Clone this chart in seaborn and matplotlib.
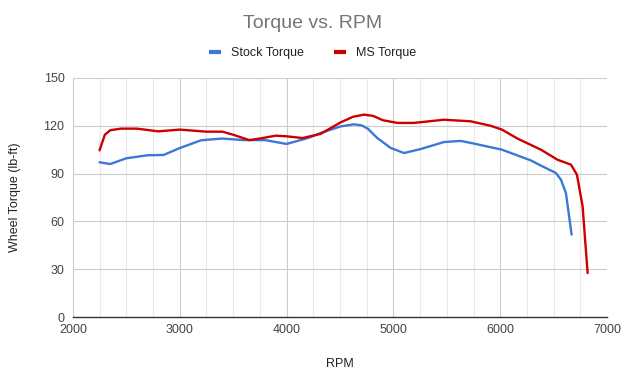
import pandas as pd
import matplotlib
matplotlib.use('Agg')
import matplotlib.pyplot as plt
from matplotlib.ticker import MultipleLocator
from matplotlib.lines import Line2D
import seaborn as sns

# values
stock_rpm = [2250, 2350, 2500, 2700, 2850, 3000, 3200, 3400, 3600, 3800, 4000,
             4200, 4320, 4505, 4630, 4700, 4760, 4849, 4974, 5099, 5255, 5473, 5630,
             5755, 6015, 6285, 6380, 6520, 6567, 6614, 6667]
stock_torque = [97.1, 96, 99.6, 101.5, 101.7, 106, 110.9, 112, 111, 111, 108.6,
                112.3, 115.5, 119.6, 120.9, 120.3, 118.2, 112.3, 106.1, 102.9, 105.4, 109.8, 110.5,
                108.8, 105, 98.3, 95, 90.4, 86.2, 77.8, 51.7]

ms_rpm = [2250, 2300, 2350, 2450, 2600, 2800, 3000, 3250, 3400, 3500, 3650,
          3750, 3900, 4000, 4150, 4318, 4505, 4620, 4724, 4810, 4900, 5037, 5192, 5473,
          5723, 5910, 6015, 6160, 6380, 6535, 6661, 6717, 6770, 6817]
ms_torque = [104.6, 114.4, 117.2, 118.2, 118.2, 116.5, 117.6, 116.3, 116.3, 114.4, 111,
             112, 113.8, 113.4, 112.3, 114.9, 122.1, 125.6, 127.0, 126.2, 123.5, 121.8, 121.8, 123.8,
             122.8, 120, 117.6, 112, 105.0, 98.7, 95.6, 89.3, 69.4, 27.6]

series_names = ['Stock Torque', 'MS Torque']
colors = ['#3c78d8', '#cc0000']

df = pd.concat([
    pd.DataFrame({'rpm': stock_rpm, 'torque': stock_torque, 'series': series_names[0]}),
    pd.DataFrame({'rpm': ms_rpm, 'torque': ms_torque, 'series': series_names[1]}),
])

sns.set_style("white")
plt.rcParams['font.family'] = ['Liberation Sans', 'DejaVu Sans']

fig = plt.figure(figsize=(6.25, 3.73), dpi=100)
ax = fig.add_axes([0.1165, 0.150, 0.855, 0.641])

sns.lineplot(data=df, x='rpm', y='torque', hue='series', palette=colors,
             estimator=None, sort=False, linewidth=1.7, legend=False, ax=ax,
             zorder=3)

ax.set_xlim(2000, 7000)
ax.set_ylim(0, 150)
ax.xaxis.set_major_locator(MultipleLocator(1000))
ax.xaxis.set_minor_locator(MultipleLocator(250))
ax.yaxis.set_major_locator(MultipleLocator(30))
ax.grid(which='major', color='#cccccc', linewidth=0.8)
ax.grid(which='minor', axis='x', color='#e8e8e8', linewidth=0.8)
ax.set_axisbelow(True)
for side in ['top', 'right', 'left']:
    ax.spines[side].set_visible(False)
ax.spines['bottom'].set_color('#333333')
ax.spines['bottom'].set_linewidth(1)
ax.tick_params(which='both', length=0, labelsize=9, labelcolor='#444444')
ax.tick_params(axis='x', pad=5)
ax.tick_params(axis='y', pad=6)
# nudge the y labels up a touch so "0" clears "2000"
for lbl in ax.get_yticklabels():
    lbl.set_va('bottom')
    lbl.set_y(lbl.get_position()[1])
ax.tick_params(axis='y', labelsize=9)
plt.setp(ax.get_yticklabels(), va='center_baseline')

ax.set_xlabel('RPM', fontsize=9, color='#222222', labelpad=16)
ax.set_ylabel('Wheel Torque (lb-ft)', fontsize=9, color='#222222', labelpad=16)

fig.text(0.5, 0.937, 'Torque vs. RPM', ha='center', va='center',
         fontsize=14, color='#757575')

handles = [Line2D([0], [0], color=c, linewidth=3, solid_capstyle='butt') for c in colors]
fig.legend(handles, series_names, loc='center', bbox_to_anchor=(0.5, 0.858),
           ncol=2, frameon=False, fontsize=9, handlelength=1.0,
           handletextpad=0.8, columnspacing=2.4, labelcolor='#222222')

fig.savefig('out.png', dpi=100)
